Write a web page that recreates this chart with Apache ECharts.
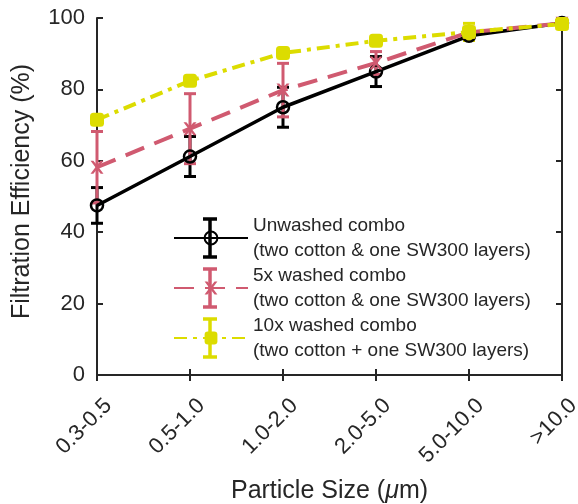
<!DOCTYPE html>
<html>
<head>
<meta charset="utf-8">
<script src="https://cdn.jsdelivr.net/npm/echarts@6/dist/echarts.min.js"></script>
<style>
  html, body { margin: 0; padding: 0; background: #fff; }
  #chart { width: 578px; height: 504px; }
</style>
</head>
<body>
<div id="chart"></div>
<script>
// particle size bins
const sizes = ['0.3-0.5', '0.5-1.0', '1.0-2.0', '2.0-5.0', '5.0-10.0', '>10.0'];

// filtration efficiency (%) and error (+/-)
const unwashed = [47.5, 61.2, 75.0, 85.0, 95.0, 98.6];
const unwashedErr = [5.0, 5.6, 5.6, 4.2, 1.0, 0.5];
const washed5 = [58.2, 69.0, 79.8, 87.4, 96.0, 98.5];
const washed5Err = [10.0, 9.8, 7.5, 3.2, 1.0, 0.5];
const washed10 = [71.5, 82.4, 90.2, 93.6, 96.1, 98.3];
const washed10Err = [1.0, 1.0, 1.0, 1.0, 2.4, 0.5];

const yTicks = [0, 20, 40, 60, 80, 100];

const names = [
  'Unwashed combo\n(two cotton & one SW300 layers)',
  '5x washed combo\n(two cotton & one SW300 layers)',
  '10x washed combo\n(two cotton + one SW300 layers)'
];
const colors = ['#000000', '#D05A70', '#DCDC00'];
const axisColor = '#262626';
const font = 'Liberation Sans, Arial, Helvetica, sans-serif';

const xMarker = 'path://M0,0 L2.2,0 L5,3.4 L7.8,0 L10,0 L6.2,5 L10,10 L7.8,10 L5,6.6 L2.2,10 L0,10 L3.8,5 Z';

function errData(vals, errs) {
  return vals.map((v, i) => [i, v - errs[i], v + errs[i]]);
}

function errSeries(name, vals, errs, color) {
  return {
    name: name,
    type: 'custom',
    data: errData(vals, errs),
    encode: { x: 0, y: [1, 2] },
    renderItem: function (params, api) {
      const lo = api.coord([api.value(0), api.value(1)]);
      const hi = api.coord([api.value(0), api.value(2)]);
      const w = 6;
      const style = { stroke: color, lineWidth: 3, fill: null };
      return {
        type: 'group',
        children: [
          { type: 'line', shape: { x1: lo[0], y1: lo[1], x2: hi[0], y2: hi[1] }, style: style },
          { type: 'line', shape: { x1: lo[0] - w, y1: lo[1], x2: lo[0] + w, y2: lo[1] }, style: style },
          { type: 'line', shape: { x1: hi[0] - w, y1: hi[1], x2: hi[0] + w, y2: hi[1] }, style: style }
        ]
      };
    },
    silent: true
  };
}

// error bar glyphs drawn over the legend icons
function legendBar(cy, color) {
  const style = { stroke: color, lineWidth: 3.5 };
  const cx = 210, h = 19, w = 7;
  return {
    type: 'group',
    z: 100,
    children: [
      { type: 'line', shape: { x1: cx, y1: cy - h, x2: cx, y2: cy + h }, style: style },
      { type: 'line', shape: { x1: cx - w, y1: cy - h, x2: cx + w, y2: cy - h }, style: style },
      { type: 'line', shape: { x1: cx - w, y1: cy + h, x2: cx + w, y2: cy + h }, style: style }
    ]
  };
}

const chart = echarts.init(document.getElementById('chart'));

const legendTop = 208;

const option = {
  animation: false,
  textStyle: { fontFamily: font },
  grid: { left: 97, right: 16, top: 18, bottom: 129, outerBoundsMode: 'none', containLabel: false },
  legend: {
    orient: 'vertical',
    left: 168,
    top: legendTop,
    itemWidth: 74,
    itemHeight: 16,
    itemGap: 0,
    data: names,
    textStyle: { fontSize: 19, lineHeight: 25, color: axisColor, fontFamily: font },
    selectedMode: false
  },
  graphic: [
    legendBar(legendTop + 30, colors[0]),
    legendBar(legendTop + 80, colors[1]),
    legendBar(legendTop + 130, colors[2])
  ],
  xAxis: [{
    type: 'category',
    data: sizes,
    boundaryGap: false,
    name: '{n|Particle Size (}{i|μ}{n|m)}',
    nameLocation: 'middle',
    nameGap: 104,
    nameTextStyle: {
      rich: {
        n: { fontSize: 25, color: axisColor, fontFamily: font },
        i: { fontSize: 25, color: axisColor, fontFamily: font, fontStyle: 'italic' }
      }
    },
    axisLine: { lineStyle: { color: axisColor, width: 2 } },
    axisTick: { inside: true, length: 6, alignWithLabel: true, lineStyle: { color: axisColor, width: 2 } },
    axisLabel: {
      rotate: 45, fontSize: 22, color: axisColor, margin: 16,
      verticalAlign: 'top', padding: [5, 0, 0, 0], fontFamily: font
    },
    splitLine: { show: false }
  }, {
    type: 'category',
    data: sizes,
    boundaryGap: false,
    position: 'top',
    axisLine: { lineStyle: { color: axisColor, width: 2 } },
    axisTick: { inside: true, length: 6, lineStyle: { color: axisColor, width: 2 } },
    axisLabel: { show: false },
    splitLine: { show: false }
  }],
  yAxis: [{
    type: 'value',
    min: yTicks[0],
    max: yTicks[yTicks.length - 1],
    interval: 20,
    name: 'Filtration Efficiency (%)',
    nameLocation: 'middle',
    nameGap: 62,
    nameTextStyle: { fontSize: 25, color: axisColor, fontFamily: font, padding: [0, 0, 0, 10] },
    axisLine: { show: true, lineStyle: { color: axisColor, width: 2 } },
    axisTick: { show: true, inside: true, length: 6, lineStyle: { color: axisColor, width: 2 } },
    axisLabel: { fontSize: 22, color: axisColor, margin: 12, fontFamily: font },
    splitLine: { show: false }
  }, {
    type: 'value',
    min: yTicks[0],
    max: yTicks[yTicks.length - 1],
    interval: 20,
    position: 'right',
    axisLine: { show: true, lineStyle: { color: axisColor, width: 2 } },
    axisTick: { show: true, inside: true, length: 6, lineStyle: { color: axisColor, width: 2 } },
    axisLabel: { show: false },
    splitLine: { show: false }
  }],
  series: [
    {
      name: names[0],
      type: 'line',
      data: unwashed,
      color: colors[0],
      lineStyle: { color: colors[0], width: 3.5, type: 'solid' },
      symbol: 'circle',
      symbolSize: 12,
      itemStyle: { color: 'rgba(255,255,255,0)', borderColor: colors[0], borderWidth: 2.5 }
    },
    errSeries(names[0], unwashed, unwashedErr, colors[0]),
    {
      name: names[1],
      type: 'line',
      data: washed5,
      color: colors[1],
      lineStyle: { color: colors[1], width: 4, type: [20, 11] },
      symbol: xMarker,
      symbolSize: 13,
      itemStyle: { color: colors[1] }
    },
    errSeries(names[1], washed5, washed5Err, colors[1]),
    {
      name: names[2],
      type: 'line',
      data: washed10,
      color: colors[2],
      lineStyle: { color: colors[2], width: 4, type: [13, 6, 4, 6] },
      symbol: 'roundRect',
      symbolSize: 14,
      itemStyle: { color: colors[2] }
    },
    errSeries(names[2], washed10, washed10Err, colors[2])
  ]
};

chart.setOption(option);
</script>
</body>
</html>
